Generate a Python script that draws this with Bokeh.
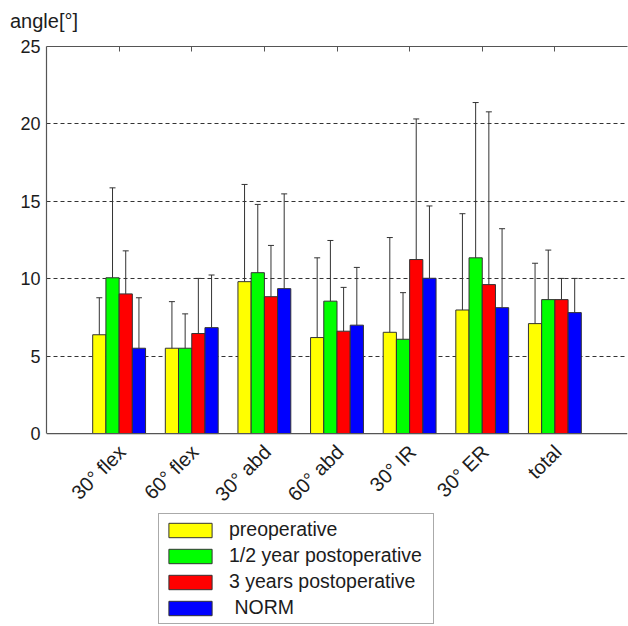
import math
from bokeh.plotting import figure
from bokeh.layouts import column
from bokeh.models import (ColumnDataSource, Range1d, FixedTicker, LinearAxis,
                          Legend, LegendItem, Whisker, TeeHead, Span, Div)
from bokeh.transform import dodge
from bokeh.embed import file_html
from bokeh.resources import INLINE

categories = ["30° flex", "60° flex", "30° abd", "60° abd", "30° IR", "30° ER", "total"]
series_names = ["preoperative", "1/2 year postoperative", "3 years postoperative", " NORM"]
series_colors = ["#FFFF00", "#00FF00", "#FF0000", "#0000FF"]
y_title = "angle[°]"

preop_mean = [6.38, 5.51, 9.81, 6.20, 6.54, 7.98, 7.10]
preop_sd = [2.39, 3.01, 6.28, 5.15, 6.12, 6.22, 3.90]
half_year_mean = [10.06, 5.51, 10.39, 8.55, 6.09, 11.35, 8.65]
half_year_sd = [5.81, 2.22, 4.41, 3.92, 3.01, 10.03, 3.20]
three_year_mean = [9.02, 6.46, 8.84, 6.61, 11.24, 9.62, 8.65]
three_year_sd = [2.78, 3.56, 3.31, 2.83, 9.08, 11.16, 1.37]
norm_mean = [5.51, 6.84, 9.36, 7.00, 10.03, 8.13, 7.81]
norm_sd = [3.26, 3.40, 6.12, 3.73, 4.67, 5.10, 2.21]

y_ticks = [0, 5, 10, 15, 20, 25]

means = [preop_mean, half_year_mean, three_year_mean, norm_mean]
sds = [preop_sd, half_year_sd, three_year_sd, norm_sd]

x_pos = list(range(1, len(categories) + 1))
data = {"x": x_pos, "label": categories, "base": [0] * len(categories)}
for k in range(4):
    data[f"m{k}"] = means[k]
    data[f"u{k}"] = [m + s for m, s in zip(means[k], sds[k])]
src = ColumnDataSource(data)

FONT = "Liberation Sans"
TXT = "#1c1c1c"
AX = "#555555"

head = Div(text=y_title, width=628, height=34, margin=(0, 0, 0, 0),
           styles={"font-family": FONT, "font-size": "20px", "color": TXT,
                   "padding-left": "10px", "padding-top": "10px",
                   "line-height": "1.15", "box-sizing": "border-box"})

# the frame extends below zero so that the legend can sit inside it
p = figure(width=628, height=592, output_backend="svg", toolbar_location=None,
           x_range=Range1d(0, 8), y_range=Range1d(-12.40, 25),
           min_border_left=46, min_border_top=12, min_border_right=1,
           min_border_bottom=1, x_axis_type=None, margin=(0, 0, 0, 0))
p.background_fill_color = "white"
p.border_fill_color = "white"
p.outline_line_color = None

p.ygrid.ticker = FixedTicker(ticks=[5, 10, 15, 20])
p.ygrid.grid_line_color = "#333333"
p.ygrid.grid_line_dash = "4 3"
p.ygrid.grid_line_width = 1
p.xgrid.visible = False

bw = 0.182
offsets = [(k - 1.5) * bw for k in range(4)]
renderers = []
for k in range(4):
    r = p.vbar(x=dodge("x", offsets[k]), top=f"m{k}", bottom=0, width=bw,
               source=src, fill_color=series_colors[k], line_color="#333333",
               line_width=1)
    renderers.append(r)
    w = Whisker(base=dodge("x", offsets[k]), lower=f"m{k}", upper=f"u{k}",
                source=src, line_color="#333333", line_width=1,
                upper_head=TeeHead(size=6, line_color="#333333", line_width=1),
                lower_head=None, level="glyph")
    p.add_layout(w)

# x axis baseline at zero
p.add_layout(Span(location=0, dimension="width", line_color=AX, line_width=1.2))

# category labels, rotated 45 degrees
p.text(x="x", y="base", text="label", source=src, angle=math.pi / 4,
       text_align="right", text_baseline="alphabetic", x_offset=3, y_offset=15,
       text_font={"value": FONT}, text_font_size={"value": "20px"},
       text_color=TXT)

# y axis
yax = p.yaxis[0]
yax.ticker = FixedTicker(ticks=y_ticks)
yax.bounds = (0, 25)
yax.major_label_text_font = FONT
yax.major_label_text_font_size = "18px"
yax.major_label_text_color = TXT
yax.major_tick_in = 0
yax.major_tick_out = 0
yax.minor_tick_line_color = None
yax.axis_line_color = AX
yax.axis_line_width = 1.2
yax.major_label_standoff = 6

top_ax = LinearAxis(ticker=FixedTicker(ticks=x_pos), major_label_text_alpha=0,
                    major_label_text_font_size="1px", major_label_standoff=0,
                    major_tick_in=5, major_tick_out=0, major_tick_line_color=AX,
                    minor_tick_line_color=None, axis_line_color=AX,
                    axis_line_width=1.2)
p.add_layout(top_ax, "above")

legend = Legend(items=[LegendItem(label=series_names[k], renderers=[renderers[k]])
                       for k in range(4)],
                location=(112, 1), orientation="vertical",
                label_text_font=FONT, label_text_font_size="19.5px",
                label_text_color=TXT, glyph_width=54, glyph_height=18,
                label_height=18, label_width=200, spacing=3, padding=4,
                margin=0, label_standoff=12, border_line_color=AX,
                border_line_width=1.2, background_fill_color="white",
                background_fill_alpha=1)
p.add_layout(legend, "center")

layout = column(head, p, spacing=0)
open("out.html", "w").write(file_html(layout, INLINE))
